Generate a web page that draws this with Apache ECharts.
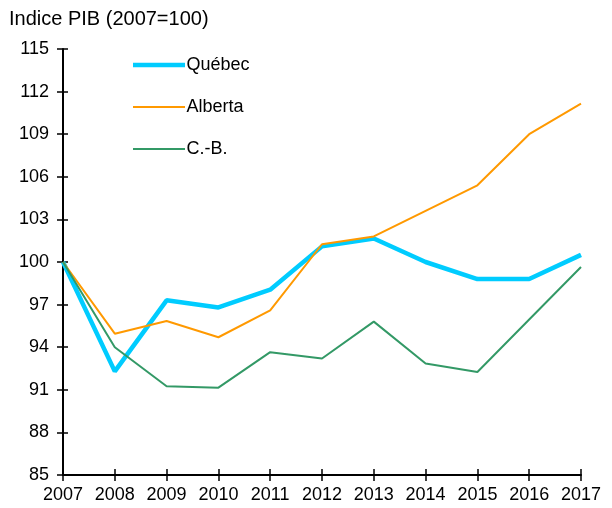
<!DOCTYPE html>
<html>
<head>
<meta charset="utf-8">
<script src="https://cdn.jsdelivr.net/npm/echarts@6/dist/echarts.min.js"></script>
<style>
  html, body { margin: 0; padding: 0; background: #fff; }
  #chart { width: 612px; height: 508px; }
</style>
</head>
<body>
<div id="chart"></div>
<script>
// données
const years = ['2007', '2008', '2009', '2010', '2011', '2012', '2013', '2014', '2015', '2016', '2017'];
const quebec = [100, 92.3, 97.3, 96.8, 98.05, 101.1, 101.65, 100.0, 98.8, 98.8, 100.5];
const alberta = [100, 94.95, 95.85, 94.7, 96.6, 101.25, 101.8, 103.6, 105.4, 109.0, 111.15];
const cb = [100, 94.0, 91.25, 91.15, 93.65, 93.2, 95.8, 92.85, 92.25, 95.95, 99.65];

const font = 'Liberation Sans, Arial, sans-serif';
const chart = echarts.init(document.getElementById('chart'));

// trait de légende : rectangle plein dans une boîte de 10 px de haut
const bar = (h) => {
  const y0 = (10 - h) / 2;
  return 'path://M0,0 L0.01,0 L0,0.01 Z M0,10 L0.01,10 L0,9.99 Z M0,' + y0 + ' H52 V' + (y0 + h) + ' H0 Z';
};

const line = (name, data, color, width) => ({
  name,
  type: 'line',
  data,
  symbol: 'none',
  lineStyle: { color, width },
  itemStyle: { color },
  xAxisIndex: 0,
  yAxisIndex: 0,
});

// axe fantôme décalé vers l'intérieur : moitié intérieure des graduations
const tickStyle = { color: '#000', width: 1.5 };

chart.setOption({
  animation: false,
  title: {
    text: 'Indice PIB (2007=100)',
    left: 4,
    top: 4,
    textStyle: { fontFamily: font, fontSize: 20, fontWeight: 'normal', color: '#000' },
  },
  legend: {
    orient: 'vertical',
    left: 128,
    top: 51,
    itemWidth: 55,
    itemHeight: 10,
    itemGap: 24,
    textStyle: { fontFamily: font, fontSize: 18, color: '#000', padding: [0, 0, 0, -5] },
    data: [
      { name: 'Québec', icon: bar(4.5), itemStyle: { color: '#00CCFF' } },
      { name: 'Alberta', icon: bar(2), itemStyle: { color: '#FF9900' } },
      { name: 'C.-B.', icon: bar(2), itemStyle: { color: '#339966' } },
    ],
  },
  grid: { left: 63, right: 31, top: 49, bottom: 33, containLabel: false },
  xAxis: [
    {
      type: 'category',
      data: years,
      boundaryGap: false,
      axisLine: { lineStyle: { color: '#000', width: 2 } },
      axisTick: { length: 6, interval: 0, lineStyle: tickStyle },
      axisLabel: { fontFamily: font, fontSize: 18, color: '#000', margin: 11, interval: 0, hideOverlap: false },
      splitLine: { show: false },
    },
    {
      type: 'category',
      data: years,
      boundaryGap: false,
      position: 'bottom',
      offset: -6,
      axisLine: { show: false },
      axisTick: { show: true, interval: 0, length: 6, lineStyle: tickStyle },
      axisLabel: { show: false },
    },
  ],
  yAxis: [
    {
      type: 'value',
      min: 85,
      max: 115,
      interval: 3,
      axisLine: { show: true, lineStyle: { color: '#000', width: 2 } },
      axisTick: { show: true, length: 6, lineStyle: tickStyle },
      axisLabel: { fontFamily: font, fontSize: 18, color: '#000', margin: 14 },
      splitLine: { show: false },
    },
    {
      type: 'value',
      min: 85,
      max: 115,
      interval: 3,
      position: 'left',
      offset: -5,
      axisLine: { show: false },
      axisTick: { show: true, length: 5, lineStyle: tickStyle },
      axisLabel: { show: false },
      splitLine: { show: false },
    },
  ],
  series: [
    line('Québec', quebec, '#00CCFF', 4.5),
    line('Alberta', alberta, '#FF9900', 2),
    line('C.-B.', cb, '#339966', 2),
  ],
});
</script>
</body>
</html>
